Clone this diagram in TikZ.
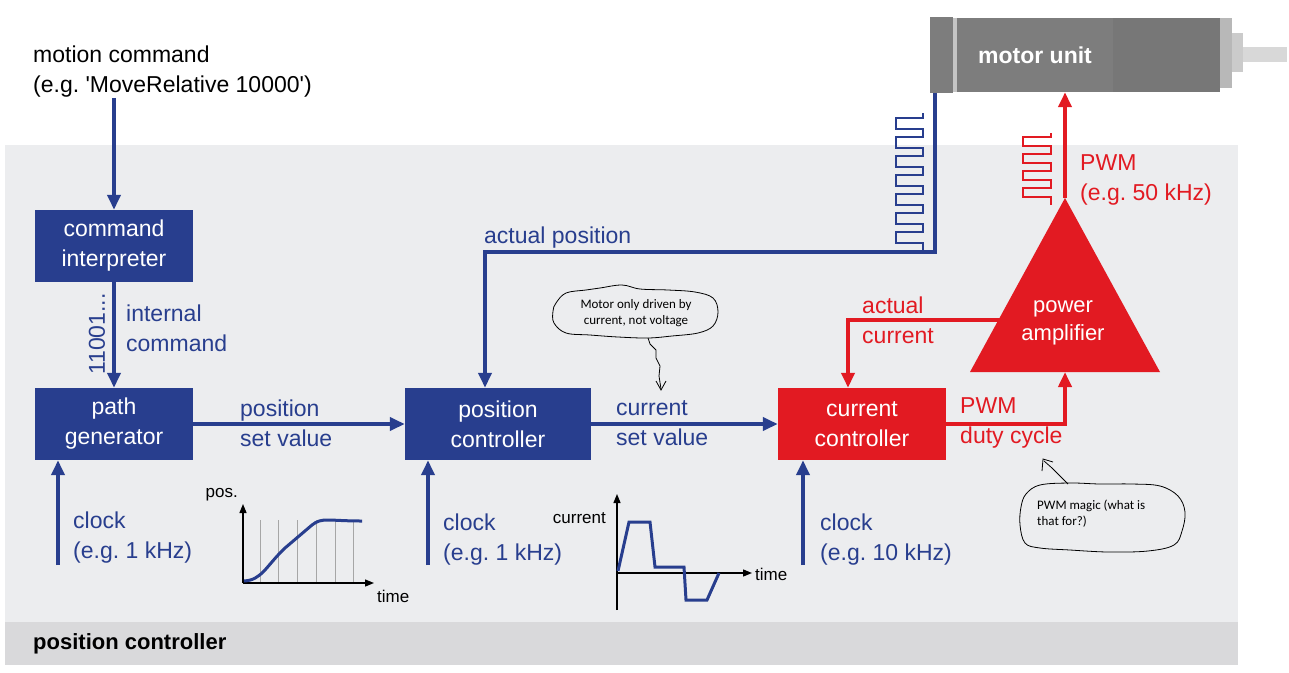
\documentclass[tikz,border=0pt]{standalone}
\usepackage{fontspec}
\setmainfont{Liberation Sans}
\newfontfamily\handfont{Carlito}
\usetikzlibrary{arrows.meta,calc}

\definecolor{fblue}{RGB}{40,62,142}
\definecolor{fred}{RGB}{226,26,34}
\definecolor{panelgrey}{RGB}{236,237,239}
\definecolor{bargrey}{RGB}{217,217,219}
\definecolor{motorgrey}{RGB}{125,125,125}

\newcommand{\bigfont}{\fontsize{23}{30}\selectfont}
\newcommand{\smallfont}{\fontsize{17}{20}\selectfont}

\tikzset{
  blk/.style={fill=fblue,text=white,minimum width=158pt,minimum height=72pt,align=center,inner sep=0pt,font=\bigfont},
  lbl/.style={anchor=west,align=left,inner sep=0pt,font=\bigfont},
  conn/.style={line width=4pt,-{Triangle[length=15pt,width=13pt]}},
  note/.style={align=center,inner sep=0pt,font=\handfont\fontsize{13}{16}\selectfont},
}

\begin{document}
\frenchspacing
\begin{tikzpicture}[x=1pt,y=-1pt]
\useasboundingbox (0,0) rectangle (1289,672);
% panels
\fill[panelgrey] (5,145) rectangle (1238,622);
\fill[bargrey] (5,622) rectangle (1238,665);
\node[lbl,font=\bfseries\fontsize{22}{26}\selectfont] (title) at (33,644) {position controller};

% motor unit
\fill[motorgrey] (930,17) rectangle (953,93);
\fill[motorgrey!45] (953,18) rectangle (957,92);
\node[fill=motorgrey,minimum width=156pt,minimum height=74pt,inner sep=0pt,text=white,font=\bfseries\fontsize{23}{26}\selectfont] (motor) at (1035,55) {motor unit};
\fill[motorgrey!95!black] (1113,18) rectangle (1220,92);
\fill[motorgrey!55] (1220,18) rectangle (1232,88);
\fill[motorgrey!40] (1232,33) rectangle (1243,72);
\fill[motorgrey!30] (1243,47) rectangle (1287,62);

% text at the top
\node[lbl] (motion) at (33,72) {motion command\\(e.g. \textquotesingle MoveRelative 10000\textquotesingle)};

% blocks
\node[blk] (ci) at (114,246) {command\\interpreter};
\node[blk] (pg) at (114,424) {path\\generator};
\node[blk,minimum width=186pt] (pc) at (498,424) {position\\controller};
\node[blk,fill=fred,minimum width=168pt] (cc) at (862,424) {current\\controller};

% power amplifier
\coordinate (apex) at (1065,198);
\coordinate (abase) at (1065,372);
\fill[fred] (apex) -- (1160,372) -- (970,372) -- cycle;
\node[align=center,text=white,font=\fontsize{22}{28}\selectfont] (amp) at (1063,323) {power\\amplifier};
\coordinate (aleft) at (1002,320);

% blue connectors
\draw[conn,fblue] (motion.south -| ci) -- (ci);
\draw[conn,fblue] (ci) -- (pg);
\draw[conn,fblue] (pg) -- (pc);
\draw[conn,fblue] (pc) -- (cc);
\coordinate (enc) at (935,93);
\coordinate (apos) at (485,252);
\draw[conn,fblue] (enc) |- (apos) -- (apos |- pc.north);

% red connectors
\draw[conn,fred] (cc.east) -| (abase);
\draw[conn,fred] (apex) -- (apex |- motor.south);
\draw[conn,fred] (aleft) -| ([xshift=-14pt]cc.north);

% clock inputs
\coordinate (clka) at (58,565);
\coordinate (clkb) at (428,565);
\coordinate (clkc) at (803,565);
\draw[conn,fblue] (clka) -- (clka |- pg.south);
\draw[conn,fblue] (clkb) -- (clkb |- pc.south);
\draw[conn,fblue] (clkc) -- (clkc |- cc.south);

% pulse trains
\draw[fblue,line width=2pt] (923,113) -- ++(0,5)
  \foreach \i in {0,...,6} { -- ++(-27,0) -- ++(0,11) -- ++(27,0) -- ++(0,8) };
\draw[fred,line width=2pt] (1051,133) -- ++(0,4)
  \foreach \i in {0,...,3} { -- ++(-28,0) -- ++(0,9) -- ++(28,0) -- ++(0,8) };

% labels
\node[lbl,text=fblue] (intcmd) at (126,328) {internal\\command};
\node[lbl,text=fblue,rotate=90] (bits) at (97,375) {11001...};
\node[lbl,text=fblue] (posset) at (240,423) {position\\set value};
\node[lbl,text=fblue] (curset) at (616,423) {current\\set value};
\node[lbl,text=fred] (pwmdc) at (960,423) {PWM\\duty cycle};
\node[lbl,text=fblue] (clkla) at (73,538) {clock\\(e.g. 1 kHz)};
\node[lbl,text=fblue] (clklb) at (443,540) {clock\\(e.g. 1 kHz)};
\node[lbl,text=fblue] (clklc) at (820,540) {clock\\(e.g. 10 kHz)};
\node[lbl,text=fblue] (actpos) at (484,238) {actual position};
\node[lbl,text=fred] (actcur) at (862,320) {actual\\current};
\node[lbl,text=fred] (pwmhz) at (1080,180) {PWM\\(e.g. 50 kHz)};

% position profile
\foreach \gx in {260,278,297,316,335,353}
  \draw[black!35,line width=0.8pt] (\gx,520) -- (\gx,582);
\draw[line width=1.3pt,-{Triangle[length=9pt,width=7pt]}] (243,583) -- (243,504);
\draw[line width=1.3pt,-{Triangle[length=9pt,width=7pt]}] (243,583) -- (374,583);
\draw[fblue,line width=3pt] (244,581) .. controls (262,580) and (266,566) .. (285,548)
  -- (312,525) .. controls (322,517) and (328,521) .. (362,521);
\node[anchor=east,inner sep=0pt,font=\smallfont] (poslbl) at (238,495) {pos.};
\node[anchor=west,inner sep=0pt,font=\smallfont] (tlbla) at (377,596) {time};

% current profile
\draw[line width=1.3pt,-{Triangle[length=9pt,width=7pt]}] (617,610) -- (617,494);
\draw[line width=1.3pt,-{Triangle[length=9pt,width=7pt]}] (617,573) -- (752,573);
\draw[fblue,line width=3pt] (618,571) -- (629,522) -- (650,522) -- (655,567) -- (684,567)
  -- (686,600) -- (707,600) -- (719,573);
\node[anchor=east,inner sep=0pt,font=\smallfont] (curlbl) at (606,518) {current};
\node[anchor=west,inner sep=0pt,font=\smallfont] (tlblb) at (755,574) {time};

% callouts
\draw[line width=0.8pt] plot[smooth cycle,tension=0.6] coordinates {
  (556,303) (566,293) (586,290) (600,288) (622,285) (640,289) (668,290)
  (695,292) (713,298) (718,312) (713,326) (698,333) (672,336) (648,338)
  (618,337) (590,335) (566,333) (554,323) (553,311)};
\node[note] (motnote) at (636,313) {Motor only driven by\\current, not voltage};
\draw[line width=0.8pt] (648,338) -- (650,344) -- (656,350) -- (656,358) -- (660,366)
  -- (659,376) -- (661,389);
\draw[line width=0.8pt] (656,381) -- (661,390) -- (666,381);

\draw[line width=0.8pt] plot[smooth cycle,tension=0.6] coordinates {
  (1026,494) (1040,485) (1070,483) (1100,484) (1132,484) (1160,486)
  (1178,496) (1185,512) (1182,531) (1174,545) (1148,551) (1108,552)
  (1070,550) (1040,548) (1025,543) (1020,525) (1021,507)};
\node[note,align=left,anchor=west] (pwmnote) at (1037,514) {PWM magic (what is\\that for?)};
\draw[line width=0.8pt] (1068,484) -- (1060,476) -- (1052,468) -- (1044,461);
\draw[line width=0.8pt] (1042,471) -- (1043,459) -- (1053,462);
\end{tikzpicture}
\end{document}
